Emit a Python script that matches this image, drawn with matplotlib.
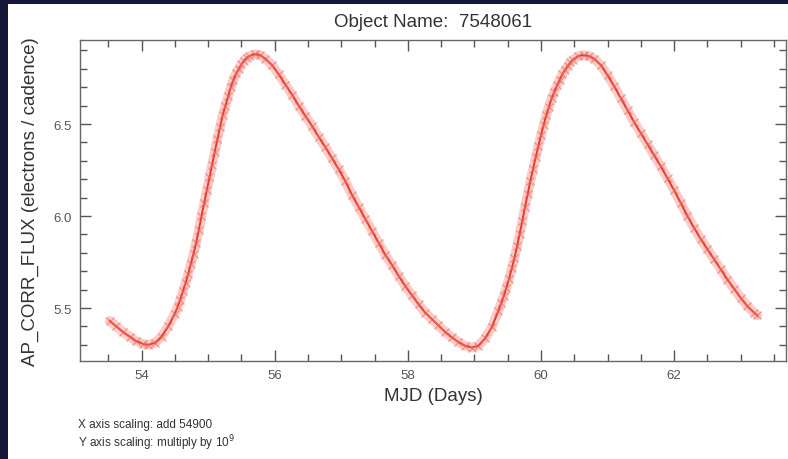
import matplotlib
matplotlib.use("Agg")
import matplotlib.pyplot as plt
from matplotlib.patches import Rectangle
from matplotlib.ticker import MultipleLocator, FormatStrFormatter

plt.rcParams["font.family"] = ["Liberation Sans", "DejaVu Sans"]

# MJD - 54900 and flux / 1e9
mjd = [
    53.52, 53.62, 53.72, 53.82, 53.92, 54.02, 54.10, 54.20, 54.30, 54.40,
    54.50, 54.54, 54.58, 54.62, 54.66, 54.70, 54.74, 54.78, 54.82, 54.86,
    54.90, 54.94, 54.98, 55.02, 55.06, 55.10, 55.14, 55.18, 55.22, 55.26,
    55.30, 55.34, 55.38, 55.42, 55.46, 55.50, 55.54, 55.58, 55.62, 55.70,
    55.78, 55.86, 55.96, 56.06, 56.16, 56.26, 56.36, 56.46, 56.56, 56.66,
    56.76, 56.86, 56.96, 57.06, 57.16, 57.26, 57.36, 57.46, 57.56, 57.66,
    57.76, 57.86, 57.96, 58.06, 58.16, 58.26, 58.36, 58.46, 58.56, 58.66,
    58.76, 58.86, 58.96, 59.06, 59.16, 59.26, 59.36, 59.40, 59.44, 59.48,
    59.52, 59.56, 59.60, 59.64, 59.68, 59.72, 59.76, 59.80, 59.84, 59.88,
    59.92, 59.96, 60.00, 60.04, 60.08, 60.12, 60.16, 60.20, 60.24, 60.28,
    60.32, 60.36, 60.40, 60.44, 60.48, 60.56, 60.64, 60.72, 60.80, 60.90,
    61.00, 61.10, 61.20, 61.30, 61.40, 61.50, 61.60, 61.70, 61.80, 61.90,
    62.00, 62.10, 62.20, 62.30, 62.40, 62.50, 62.60, 62.70, 62.80, 62.90,
    63.00, 63.10, 63.20, 63.25,
]
flux = [
    5.43, 5.40, 5.37, 5.345, 5.32, 5.305, 5.30, 5.31, 5.345, 5.40,
    5.47, 5.505, 5.545, 5.59, 5.635, 5.685, 5.74, 5.795, 5.855, 5.925,
    6.00, 6.07, 6.14, 6.21, 6.28, 6.35, 6.42, 6.485, 6.55, 6.60,
    6.65, 6.70, 6.74, 6.775, 6.80, 6.825, 6.845, 6.86, 6.87, 6.88,
    6.875, 6.855, 6.82, 6.77, 6.715, 6.66, 6.60, 6.545, 6.49, 6.43,
    6.375, 6.315, 6.255, 6.19, 6.115, 6.05, 5.985, 5.92, 5.855, 5.79,
    5.735, 5.675, 5.62, 5.57, 5.52, 5.475, 5.44, 5.405, 5.37, 5.34,
    5.315, 5.295, 5.285, 5.295, 5.335, 5.395, 5.485, 5.525, 5.565, 5.61,
    5.66, 5.715, 5.77, 5.835, 5.905, 5.975, 6.05, 6.12, 6.19, 6.255,
    6.32, 6.38, 6.44, 6.495, 6.55, 6.595, 6.64, 6.675, 6.71, 6.74,
    6.77, 6.795, 6.815, 6.835, 6.85, 6.87, 6.875, 6.87, 6.855, 6.82,
    6.765, 6.705, 6.64, 6.575, 6.51, 6.45, 6.39, 6.33, 6.27, 6.205,
    6.14, 6.07, 6.00, 5.935, 5.875, 5.82, 5.765, 5.71, 5.655, 5.605,
    5.555, 5.51, 5.475, 5.46,
]

fig = plt.figure(figsize=(7.88, 4.6), dpi=100, facecolor="#15163a")
# white slide panel behind the plot
fig.patches.append(Rectangle((8 / 788, 0), 1, 455 / 460, transform=fig.transFigure,
                             facecolor="white", edgecolor="none", zorder=-10))

ax = fig.add_axes([80 / 788, 98 / 460, 706 / 788, 321 / 460])
ax.set_facecolor("white")

# pink band of overlapping markers, the red line and the crosses
ax.plot(mjd, flux, color="#f6b4ae", lw=7, solid_capstyle="round", alpha=0.65)
ax.plot(mjd, flux, color="#e8392b", lw=1.4)
ax.plot(mjd, flux, ls="none", marker="x", ms=6, mew=1.0, color="#ec6a60", alpha=0.6)

ax.set_xlim(53.075, 63.68)
ax.set_ylim(5.212, 6.957)
ax.xaxis.set_major_locator(MultipleLocator(2))
ax.xaxis.set_minor_locator(MultipleLocator(0.5))
ax.yaxis.set_major_locator(MultipleLocator(0.5))
ax.yaxis.set_minor_locator(MultipleLocator(0.1))
ax.yaxis.set_major_formatter(FormatStrFormatter("%.1f"))

ax.tick_params(which="both", direction="in", top=True, right=True,
               colors="#555555", labelsize=9.5, width=1)
ax.tick_params(which="major", length=8, pad=6)
ax.tick_params(which="minor", length=5)
for s in ax.spines.values():
    s.set_color("#666666")
    s.set_linewidth(1)

ax.set_title("Object Name:  7548061", fontsize=13.5, color="#333333", pad=10)
ax.set_xlabel("MJD (Days)", fontsize=13.5, color="#333333", labelpad=4)
ax.set_ylabel("AP_CORR_FLUX (electrons / cadence)", fontsize=13.5, color="#333333", labelpad=10)

fig.text(78 / 788, 1 - 425 / 460, "X axis scaling: add 54900", fontsize=8.5,
         color="#333333", va="center")
fig.text(78 / 788, 1 - 443 / 460, "Y axis scaling: multiply by 10$^{9}$", fontsize=8.5,
         color="#333333", va="center")

fig.savefig("out.png", dpi=100, facecolor=fig.get_facecolor())
